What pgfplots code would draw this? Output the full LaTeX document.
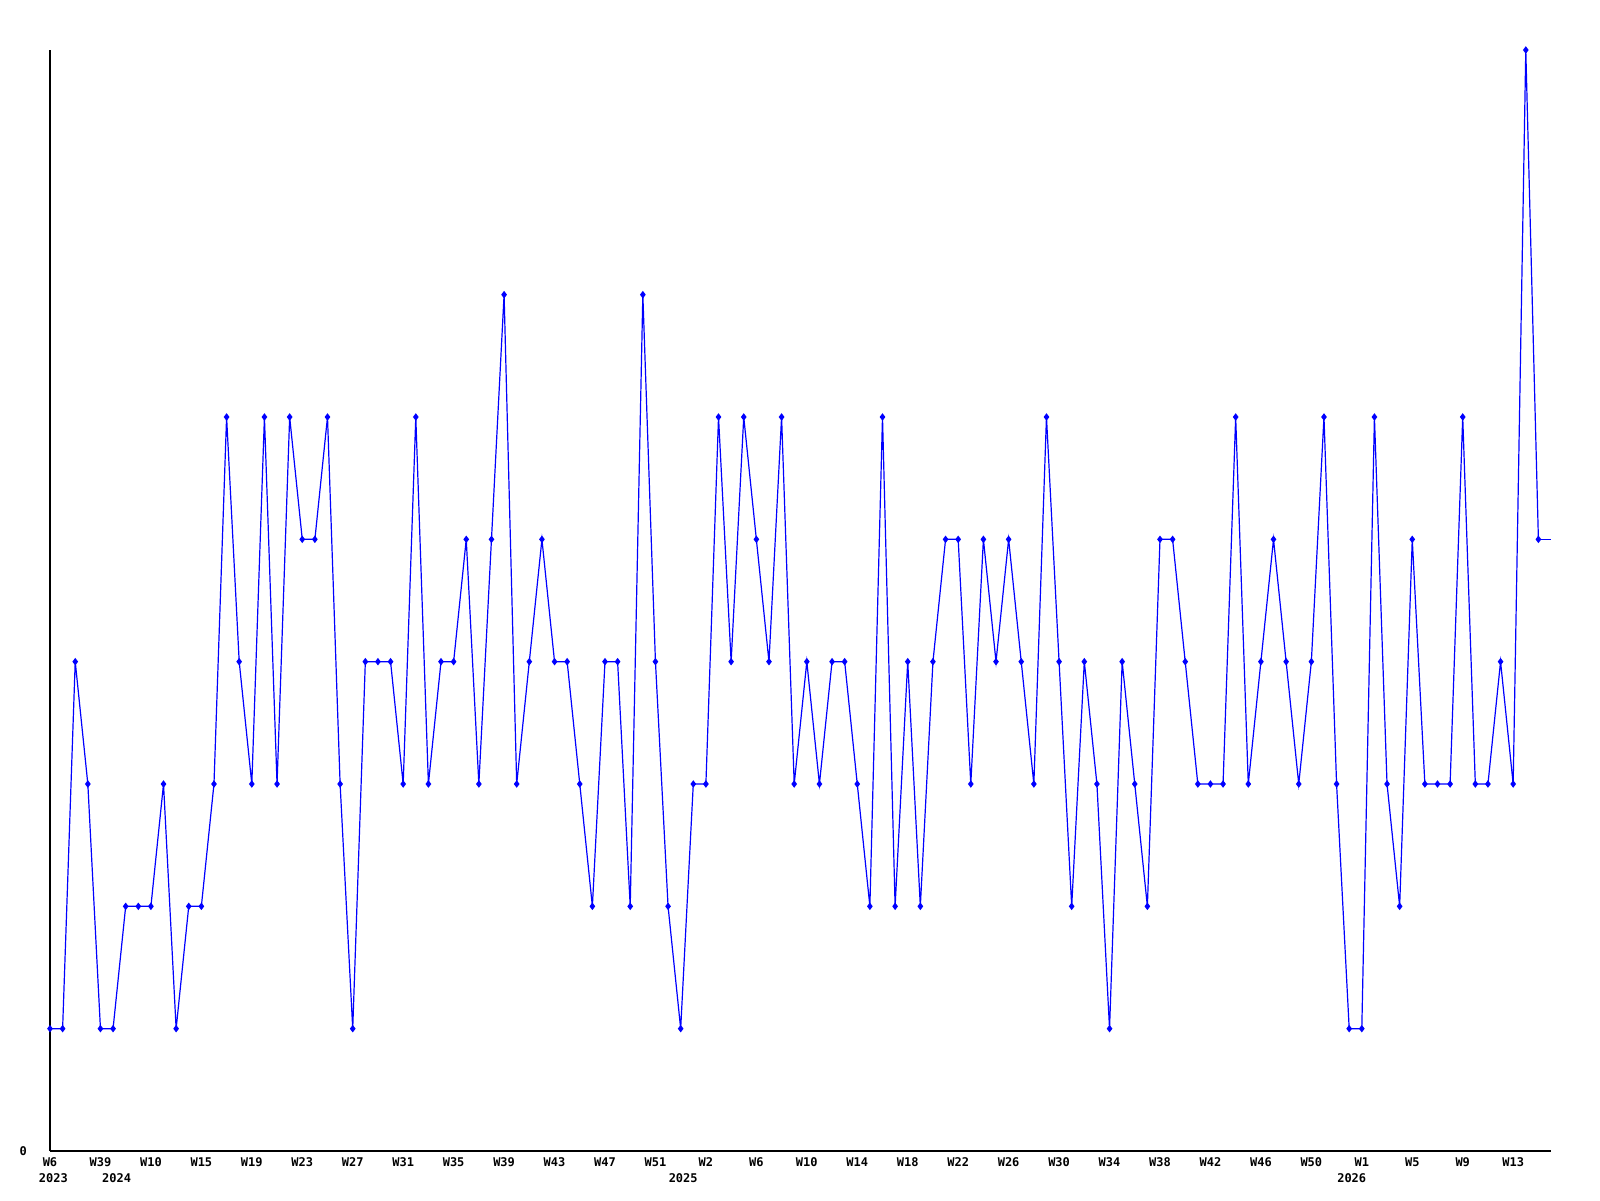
\documentclass[border=0pt]{standalone}
\usepackage{pgfplots}
\pgfplotsset{compat=1.18}
\usepackage{pgfplotstable}
\usepackage{fontspec}
\newfontfamily\pix{DejaVu Sans Mono}
\definecolor{lineblue}{RGB}{0,0,255}
\pgfplotstableread{
x y
0 1
1 1
2 4
3 3
4 1
5 1
6 2
7 2
8 2
9 3
10 1
11 2
12 2
13 3
14 6
15 4
16 3
17 6
18 3
19 6
20 5
21 5
22 6
23 3
24 1
25 4
26 4
27 4
28 3
29 6
30 3
31 4
32 4
33 5
34 3
35 5
36 7
37 3
38 4
39 5
40 4
41 4
42 3
43 2
44 4
45 4
46 2
47 7
48 4
49 2
50 1
51 3
52 3
53 6
54 4
55 6
56 5
57 4
58 6
59 3
60 4
61 3
62 4
63 4
64 3
65 2
66 6
67 2
68 4
69 2
70 4
71 5
72 5
73 3
74 5
75 4
76 5
77 4
78 3
79 6
80 4
81 2
82 4
83 3
84 1
85 4
86 3
87 2
88 5
89 5
90 4
91 3
92 3
93 3
94 6
95 3
96 4
97 5
98 4
99 3
100 4
101 6
102 3
103 1
104 1
105 6
106 3
107 2
108 5
109 3
110 3
111 3
112 6
113 3
114 3
115 4
116 3
117 9
118 5
}\weekly
\pgfplotstableread{
x y
118 5
119 5
}\tail
\begin{document}
\begin{tikzpicture}
\useasboundingbox (-25pt,-24.5pt) rectangle (775pt,575.5pt);
\begin{axis}[
  at={(0,0)}, anchor=south west,
  scale only axis,
  width=750.5pt, height=550.5pt,
  xmin=0, xmax=119, ymin=0, ymax=9,
  axis lines=left,
  axis line style={-, black, line width=0.6pt},
  clip=false,
  major tick length=0pt,
  xtick={0,4,...,116},
  xticklabels={W6,W39,W10,W15,W19,W23,W27,W31,W35,W39,W43,W47,W51,W2,W6,W10,W14,W18,W22,W26,W30,W34,W38,W42,W46,W50,W1,W5,W9,W13},
  ytick={0},
  yticklabels={0},
  ticklabel style={font=\pix\bfseries\fontsize{6}{7}\selectfont},
  xticklabel style={anchor=base, yshift=-7.5pt},
  yticklabel style={anchor=base east, xshift=-8pt, yshift=-2pt},
]
\addplot[color=lineblue, line width=0.6pt, mark=diamond*, mark size=1.4pt, mark options={solid, fill=lineblue}] table[x=x,y=y] {\weekly};
\addplot[color=lineblue, line width=0.4pt, no marks] table[x=x,y=y] {\tail};
\node[anchor=base, font=\pix\bfseries\fontsize{6}{7}\selectfont, yshift=-15.5pt] at (axis cs:0.27,0) {2023};
\node[anchor=base, font=\pix\bfseries\fontsize{6}{7}\selectfont, yshift=-15.5pt] at (axis cs:5.28,0) {2024};
\node[anchor=base, font=\pix\bfseries\fontsize{6}{7}\selectfont, yshift=-15.5pt] at (axis cs:50.2,0) {2025};
\node[anchor=base, font=\pix\bfseries\fontsize{6}{7}\selectfont, yshift=-15.5pt] at (axis cs:103.2,0) {2026};
\end{axis}
\end{tikzpicture}
\end{document}
